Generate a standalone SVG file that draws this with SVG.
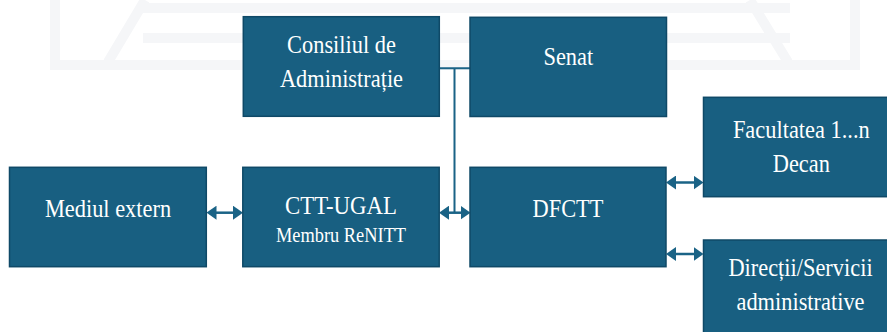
<svg xmlns="http://www.w3.org/2000/svg" width="887" height="332" viewBox="0 0 887 332">
  <style>
    .box { fill: #185f81; stroke: #0f4967; stroke-width: 1.5; }
    .t { font-family: "Liberation Serif", "Times New Roman", serif; font-size: 22.4px; fill: #ffffff; text-anchor: middle; }
    .s { font-size: 18.4px; }
    .wm { fill: none; stroke: #f5f6f8; stroke-width: 10; }
    .c { fill: none; stroke: #1a6386; stroke-width: 2; }
    .a { fill: none; stroke: #1a6386; stroke-width: 2.5; marker-start: url(#ah); marker-end: url(#ah); }
  </style>
  <defs>
    <marker id="ah" viewBox="0 0 10 14" refX="7" refY="7" markerWidth="10" markerHeight="14" markerUnits="userSpaceOnUse" orient="auto-start-reverse">
      <path d="M0,0 L10,7 L0,14 Z" fill="#1a6386"/>
    </marker>
  </defs>
  <rect width="887" height="332" fill="#ffffff"/>
  <g id="watermark">
    <path class="wm" d="M55,0 V65 H855 V0"/>
    <path class="wm" d="M143,8 H790 M143,38 H790 M108,62 L145,0 M750,0 L788,62"/>
  </g>
  <g id="connectors">
    <path class="c" d="M439.5,68.3 H470 M454.5,68.3 V212.7"/>
    <path class="a" d="M209.5,212.7 H240"/>
    <path class="a" d="M442,212.7 H467.5"/>
    <path class="a" d="M669,182.5 H700.5"/>
    <path class="a" d="M669,254 H700.5"/>
  </g>
  <g id="consiliul">
    <rect class="box" x="243.3" y="16.7" width="196" height="99.6"/>
    <text class="t" transform="translate(341.5 52.5) scale(1 1.15)">Consiliul de</text>
    <text class="t" transform="translate(341.5 87) scale(1 1.15)">Administrație</text>
  </g>
  <g id="senat">
    <rect class="box" x="470" y="17.3" width="196.5" height="99.2"/>
    <text class="t" transform="translate(568.3 65) scale(1 1.15)">Senat</text>
  </g>
  <g id="mediul">
    <rect class="box" x="9.5" y="167.3" width="196.8" height="99.4"/>
    <text class="t" transform="translate(108 216.5) scale(1 1.15)">Mediul extern</text>
  </g>
  <g id="ctt">
    <rect class="box" x="242.8" y="167.3" width="196.4" height="99.4"/>
    <text class="t" transform="translate(341 214) scale(1 1.15)" style="font-size:22.8px">CTT-UGAL</text>
    <text class="t s" transform="translate(341 241.5) scale(1 1.15)">Membru ReNITT</text>
  </g>
  <g id="dfctt">
    <rect class="box" x="470" y="167.3" width="196" height="99.4"/>
    <text class="t" transform="translate(568 216.5) scale(1 1.15)">DFCTT</text>
  </g>
  <g id="facultatea">
    <rect class="box" x="703.5" y="97.3" width="196" height="99.4"/>
    <text class="t" transform="translate(801.3 137.5) scale(1 1.15)">Facultatea 1...n</text>
    <text class="t" transform="translate(801.3 171.5) scale(1 1.15)">Decan</text>
  </g>
  <g id="directii">
    <rect class="box" x="703.5" y="240" width="196" height="100"/>
    <text class="t" transform="translate(800.5 275.5) scale(1 1.15)">Direcții/Servicii</text>
    <text class="t" transform="translate(800.5 310) scale(1 1.15)">administrative</text>
  </g>
</svg>
